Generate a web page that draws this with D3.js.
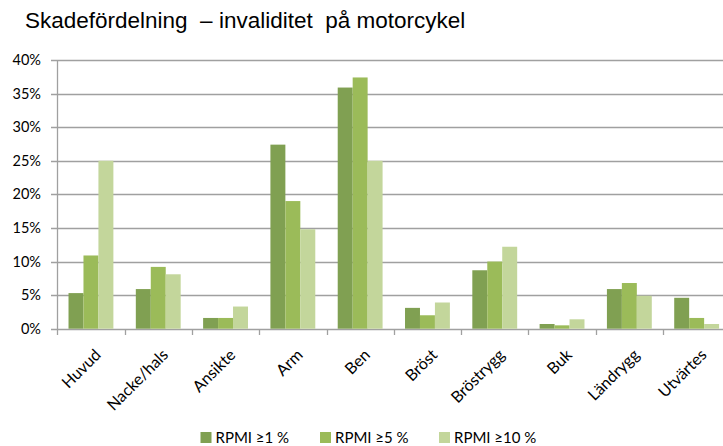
<!DOCTYPE html>
<html>
<head>
<meta charset="utf-8">
<script src="https://cdn.jsdelivr.net/npm/d3@7"></script>
<style>
  body { margin: 0; background: #fff; }
  svg { display: block; }
</style>
</head>
<body>
<div id="chart"></div>
<script>
// data (share of injuries, %)
var categories = ["Huvud", "Nacke/hals", "Ansikte", "Arm", "Ben", "Bröst", "Bröstrygg", "Buk", "Ländrygg", "Utvärtes"];
var seriesNames = ["RPMI ≥1 %", "RPMI ≥5 %", "RPMI ≥10 %"];
var rpmi1 = [5.3, 5.9, 1.6, 27.4, 35.9, 3.1, 8.7, 0.7, 5.9, 4.6];
var rpmi5 = [10.9, 9.2, 1.6, 19.0, 37.4, 2.0, 10.0, 0.5, 6.8, 1.6];
var rpmi10 = [25.0, 8.1, 3.3, 14.8, 25.0, 3.9, 12.2, 1.4, 4.9, 0.7];
var yTicks = [0, 5, 10, 15, 20, 25, 30, 35, 40];
var colors = ["#80a052", "#9bbb59", "#c3d69b"];

var width = 723, height = 446;
var seriesValues = [rpmi1, rpmi5, rpmi10];

var svg = d3.select("#chart").append("svg")
	.attr("width", width)
	.attr("height", height);

// title
svg.append("text")
	.attr("x", 25)
	.attr("y", 28)
	.style("font-family", "'Liberation Sans', Arial, sans-serif")
	.style("font-size", "22.5px")
	.style("fill", "#000")
	.style("white-space", "pre")
	.text("Skadefördelning  – invaliditet  på motorcykel");

var x = d3.scaleBand()
	.domain(categories)
	.range([57.3, 730.3]);

var xs = d3.scaleBand()
	.domain(seriesNames)
	.range([0, x.bandwidth()])
	.paddingOuter(0.75);

var y = d3.scaleLinear()
	.domain([0, 40])
	.range([328.7, 60]);

var labelFont = "Lato, 'Open Sans', sans-serif";

// gridlines
svg.append("g")
	.selectAll("line")
	.data(yTicks)
	.enter()
	.append("line")
	.attr("x1", 51)
	.attr("x2", width)
	.attr("y1", function(d){ return Math.round(y(d)) + 0.5; })
	.attr("y2", function(d){ return Math.round(y(d)) + 0.5; })
	.style("stroke", "#a0a0a0")
	.style("stroke-width", "1.3px");

// y labels
svg.append("g")
	.selectAll("text")
	.data(yTicks)
	.enter()
	.append("text")
	.attr("x", 41)
	.attr("y", function(d){ return y(d) + 5; })
	.attr("text-anchor", "end")
	.style("font-family", labelFont)
	.style("font-size", "14.5px")
	.style("fill", "#000")
	.text(function(d){ return d + "%"; });

// bars
var groups = svg.append("g")
	.selectAll("g")
	.data(seriesNames)
	.enter()
	.append("g")
	.style("fill", function(d, i){ return colors[i]; });

groups.selectAll("rect")
	.data(function(s, si){
		return categories.map(function(c, ci){ return {cat: c, series: s, value: seriesValues[si][ci]}; });
	})
	.enter()
	.append("rect")
	.attr("x", function(d){ return x(d.cat) + xs(d.series); })
	.attr("width", xs.bandwidth())
	.attr("y", function(d){ return y(d.value); })
	.attr("height", function(d){ return y(0) - y(d.value); });

// y axis line and x tick marks
svg.append("line")
	.attr("x1", 57.5).attr("x2", 57.5)
	.attr("y1", 60).attr("y2", 335)
	.style("stroke", "#a0a0a0")
	.style("stroke-width", "1.3px");

svg.append("g")
	.selectAll("line")
	.data(categories.slice(1))
	.enter()
	.append("line")
	.attr("x1", function(d){ return Math.round(x(d)) + 0.5; })
	.attr("x2", function(d){ return Math.round(x(d)) + 0.5; })
	.attr("y1", 329)
	.attr("y2", 335)
	.style("stroke", "#a0a0a0")
	.style("stroke-width", "1.3px");

// x labels
svg.append("g")
	.selectAll("text")
	.data(categories)
	.enter()
	.append("text")
	.attr("transform", function(d){
		return "translate(" + (x(d) + x.bandwidth() / 2 + 3) + ",348) rotate(-45)";
	})
	.attr("text-anchor", "end")
	.attr("dy", "0.7em")
	.style("font-family", labelFont)
	.style("font-size", "16px")
	.style("fill", "#000")
	.text(function(d){ return d; });

// legend
var legendX = [200.5, 320, 439];
var legend = svg.append("g")
	.selectAll("g")
	.data(seriesNames)
	.enter()
	.append("g")
	.attr("transform", function(d, i){ return "translate(" + legendX[i] + ",432)"; });

legend.append("rect")
	.attr("width", 11)
	.attr("height", 11)
	.style("fill", function(d, i){ return colors[i]; });

legend.append("text")
	.attr("x", 15)
	.attr("y", 10.5)
	.style("font-family", labelFont)
	.style("font-size", "15px")
	.style("fill", "#000")
	.text(function(d){ return d; });
</script>
</body>
</html>
